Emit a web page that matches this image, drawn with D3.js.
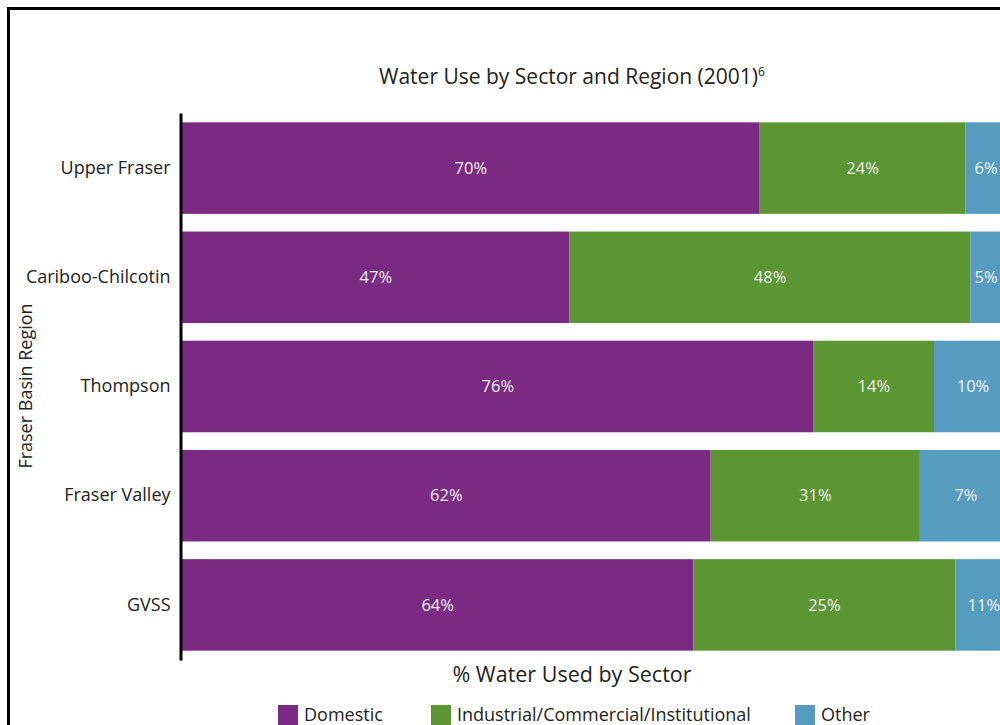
<!DOCTYPE html>
<html>
<head>
<meta charset="utf-8">
<script src="https://cdn.jsdelivr.net/npm/d3@7"></script>
<style>
  html, body { margin: 0; padding: 0; background: #fff; }
  svg { display: block; }
  text { font-family: "Open Sans", "Noto Sans", sans-serif; }
</style>
</head>
<body>
<svg id="chart" width="1000" height="725"></svg>
<script>
// ---- data ----
const regions = ["Upper Fraser", "Cariboo-Chilcotin", "Thompson", "Fraser Valley", "GVSS"];
const sectors = ["Domestic", "Industrial/Commercial/Institutional", "Other"];
// bar segment lengths as drawn in the picture (% of full bar)
const domesticBar   = [69.6, 46.7, 76.1, 63.7, 61.6];
const industrialBar = [24.8, 48.3, 14.5, 25.2, 31.6];
const otherBar      = [5.6, 5.0, 9.4, 11.1, 6.8];
// printed labels
const domesticLabel   = ["70%", "47%", "76%", "62%", "64%"];
const industrialLabel = ["24%", "48%", "14%", "31%", "25%"];
const otherLabel      = ["6%", "5%", "10%", "7%", "11%"];
const sectorColors = ["#7a2a82", "#5b9632", "#559cc0"];

const svg = d3.select("#chart");

// frame
svg.append("rect").attr("x", 8.5).attr("y", 8.5).attr("width", 1100).attr("height", 1100)
  .attr("fill", "none").attr("stroke", "#000").attr("stroke-width", 3);

const x = d3.scaleLinear().domain([0, 100]).range([182, 1012]);
const y = d3.scaleBand().domain(regions).range([113, 660]).paddingInner(0.162).paddingOuter(0.0855);

const rows = regions.map((r, i) => ({
  region: r,
  vals: [domesticBar[i], industrialBar[i], otherBar[i]],
  labels: [domesticLabel[i], industrialLabel[i], otherLabel[i]]
}));

const segs = [];
rows.forEach(row => {
  let acc = 0;
  row.vals.forEach((v, k) => {
    segs.push({ region: row.region, k, x0: acc, x1: acc + v, label: row.labels[k] });
    acc += v;
  });
});

svg.append("g").selectAll("rect").data(segs).join("rect")
  .attr("x", d => x(d.x0))
  .attr("y", d => y(d.region))
  .attr("width", d => x(d.x1) - x(d.x0))
  .attr("height", y.bandwidth())
  .attr("fill", d => sectorColors[d.k]);

svg.append("g").selectAll("text").data(segs).join("text")
  .attr("x", d => {
    const cx = (x(d.x0) + x(d.x1)) / 2;
    return Math.min(cx, x(d.x0) + 2 + 0) === cx ? cx : Math.min(cx, 986);
  })
  .attr("y", d => y(d.region) + y.bandwidth() / 2)
  .attr("dy", "0.35em")
  .attr("text-anchor", "middle")
  .attr("fill", "#f2f2f2")
  .style("font-size", "16.5px")
  .text(d => d.label);

// y axis
const yAxis = svg.append("g").attr("transform", "translate(180.5,0)")
  .call(d3.axisLeft(y).tickSize(0).tickPadding(10));
yAxis.select(".domain").attr("stroke", "#000").attr("stroke-width", 3);
yAxis.selectAll("text").style("font-size", "18px").attr("fill", "#222")
  .style("font-family", "'Open Sans', sans-serif");

// title
svg.append("text").attr("x", 572).attr("y", 84).attr("text-anchor", "middle")
  .attr("fill", "#222").style("font-size", "21px")
  .text("Water Use by Sector and Region (2001)")
  .append("tspan").attr("dy", "-8").style("font-size", "12px").text("6");

// x axis title
svg.append("text").attr("x", 572).attr("y", 682).attr("text-anchor", "middle")
  .attr("fill", "#222").style("font-size", "21.5px").text("% Water Used by Sector");

// y axis title
svg.append("text").attr("transform", "translate(32,386) rotate(-90)")
  .attr("text-anchor", "middle").attr("fill", "#222").style("font-size", "18px")
  .text("Fraser Basin Region");

// legend
const legendX = [278, 431, 795];
const lg = svg.append("g").selectAll("g").data(sectors).join("g")
  .attr("transform", (d, i) => `translate(${legendX[i]},705)`);
lg.append("rect").attr("width", 20).attr("height", 20).attr("fill", (d, i) => sectorColors[i]);
lg.append("text").attr("x", 26).attr("y", 16).attr("fill", "#222")
  .style("font-size", "18px").text(d => d);
</script>
</body>
</html>
